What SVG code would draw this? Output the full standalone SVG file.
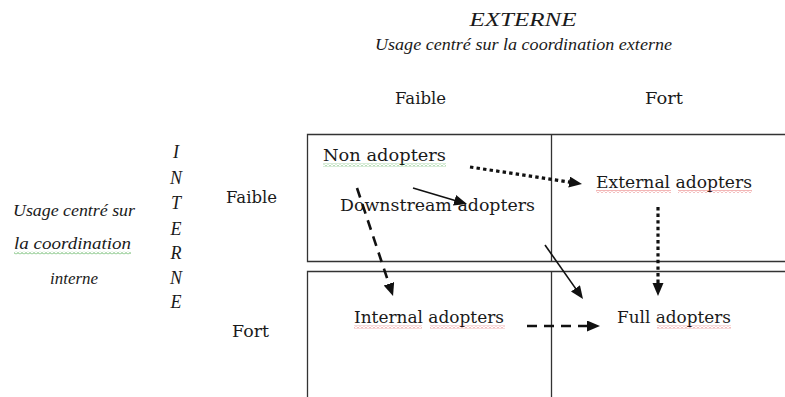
<svg xmlns="http://www.w3.org/2000/svg" width="785" height="397" viewBox="0 0 785 397">
<style>
.t{font-family:"DejaVu Serif","Liberation Serif",serif;font-size:17px;fill:#1a1a1a}
.i{font-family:"Liberation Serif",serif;font-style:italic;fill:#1a1a1a}
.box{fill:none;stroke:#333;stroke-width:1.3}
.solid{stroke:#111;stroke-width:1.6;fill:none}
.dot{stroke:#111;stroke-width:3.2;stroke-dasharray:3.4 3.2;fill:none}
.dash{stroke:#111;stroke-width:2.6;stroke-dasharray:10 7;fill:none}
</style>
<defs>
<marker id="ah" markerUnits="userSpaceOnUse" markerWidth="14" markerHeight="12" refX="4" refY="5.5" orient="auto">
<path d="M0,0 L13,5.5 L0,11 z" fill="#111"/>
</marker>
<pattern id="sqr" patternUnits="userSpaceOnUse" width="4" height="3">
<path d="M0,2.5 L2,0.5 L4,2.5" stroke="#e04848" stroke-width="0.8" fill="none"/>
</pattern>
<pattern id="sqg" patternUnits="userSpaceOnUse" width="4" height="3">
<path d="M0,2.5 L2,0.5 L4,2.5" stroke="#3aa03a" stroke-width="0.8" fill="none"/>
</pattern>
</defs>
<rect width="785" height="397" fill="#fff"/>

<g id="grid">
<path class="box" d="M790,134.5 H307.5 V261.5 H790"/>
<path class="box" d="M790,271.5 H307.5 V400"/>
<line class="box" x1="551.5" y1="134.5" x2="551.5" y2="261.5"/>
<line class="box" x1="551.5" y1="271.5" x2="551.5" y2="400"/>
</g>

<g id="axis-externe">
<text class="i" x="523" y="26" font-size="18" text-anchor="middle" textLength="107" lengthAdjust="spacingAndGlyphs">EXTERNE</text>
<text class="i" x="375" y="50" font-size="17" textLength="297" lengthAdjust="spacingAndGlyphs">Usage centré sur la coordination externe</text>
<text class="t" x="395" y="104" font-size="16" textLength="51" lengthAdjust="spacingAndGlyphs">Faible</text>
<text class="t" x="645" y="104" font-size="16" textLength="38" lengthAdjust="spacingAndGlyphs">Fort</text>
</g>

<g id="axis-interne">
<text class="i" x="74" y="216" font-size="17" text-anchor="middle" textLength="122" lengthAdjust="spacingAndGlyphs">Usage centré sur</text>
<text class="i" x="72.5" y="249" font-size="17" text-anchor="middle" textLength="117" lengthAdjust="spacingAndGlyphs">la  coordination</text>
<rect x="14" y="251.5" width="117" height="3" fill="url(#sqg)"/>
<text class="i" x="74" y="284" font-size="17" text-anchor="middle" textLength="48" lengthAdjust="spacingAndGlyphs">interne</text>
<g class="i" font-size="18" text-anchor="middle">
<text x="176" y="158">I</text>
<text x="176" y="184">N</text>
<text x="176" y="209">T</text>
<text x="176" y="235">E</text>
<text x="176" y="259">R</text>
<text x="176" y="284">N</text>
<text x="176" y="308">E</text>
</g>
<text class="t" x="226" y="203" font-size="16" textLength="51" lengthAdjust="spacingAndGlyphs">Faible</text>
<text class="t" x="232" y="337" font-size="16" textLength="37" lengthAdjust="spacingAndGlyphs">Fort</text>
</g>

<g id="node-non-adopters">
<text class="t" x="323" y="161" textLength="123" lengthAdjust="spacingAndGlyphs">Non adopters</text>
<rect x="323" y="163.5" width="123" height="3" fill="url(#sqg)"/>
</g>
<g id="node-downstream-adopters">
<text class="t" x="340" y="211" textLength="195" lengthAdjust="spacingAndGlyphs">Downstream adopters</text>
</g>
<g id="node-external-adopters">
<text class="t" x="596" y="188" textLength="156" lengthAdjust="spacingAndGlyphs">External adopters</text>
<rect x="596" y="190" width="75" height="3" fill="url(#sqr)"/>
<rect x="678" y="190" width="74" height="3" fill="url(#sqr)"/>
</g>
<g id="node-internal-adopters">
<text class="t" x="354" y="323" textLength="150" lengthAdjust="spacingAndGlyphs">Internal adopters</text>
<rect x="354" y="325.5" width="68" height="3" fill="url(#sqr)"/>
<rect x="430" y="325.5" width="75" height="3" fill="url(#sqr)"/>
</g>
<g id="node-full-adopters">
<text class="t" x="617" y="323" textLength="114" lengthAdjust="spacingAndGlyphs">Full adopters</text>
<rect x="657" y="325.5" width="74" height="3" fill="url(#sqr)"/>
</g>

<g id="connectors">
<line class="solid" x1="413" y1="188" x2="458.4" y2="201.4" marker-end="url(#ah)"/>
<line class="dot" x1="470" y1="167" x2="573.1" y2="182.6" marker-end="url(#ah)"/>
<line class="dash" x1="357" y1="188" x2="390.2" y2="287.5" marker-end="url(#ah)"/>
<line class="solid" x1="545" y1="245" x2="577.8" y2="291.6" marker-end="url(#ah)"/>
<line class="dot" x1="658" y1="207" x2="658" y2="287" marker-end="url(#ah)"/>
<line class="dash" x1="527" y1="326" x2="591" y2="326" marker-end="url(#ah)"/>
</g>
</svg>
